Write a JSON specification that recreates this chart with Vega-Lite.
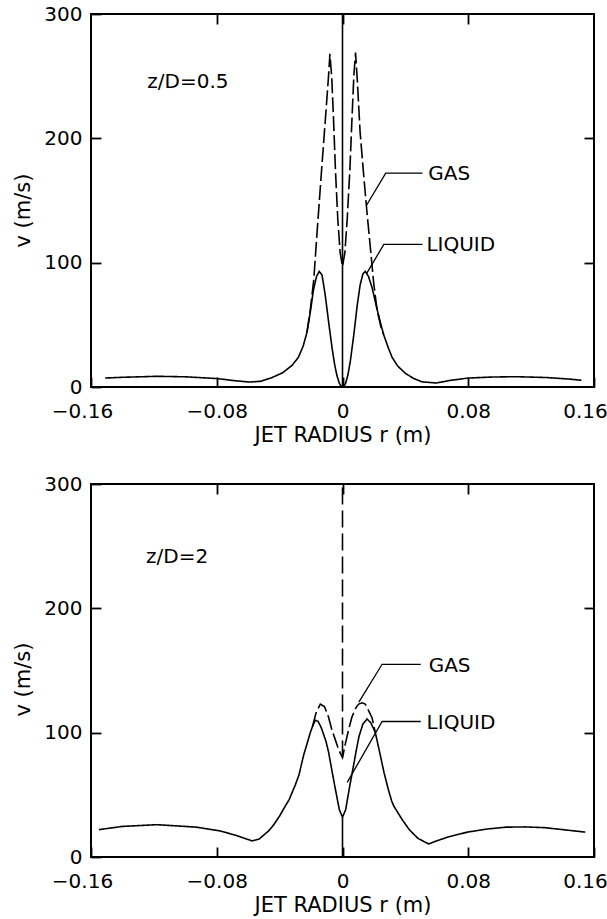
{
 "$schema": "https://vega.github.io/schema/vega-lite/v6.json",
 "background": "white",
 "padding": {"left": 11, "top": 3, "right": 0, "bottom": 0},
 "spacing": 27,
 "config": {
  "axis": {"domain": false, "grid": false, "labelFont": "DejaVu Sans", "titleFont": "DejaVu Sans", "labelFontSize": 20, "titleFontSize": 21, "titleFontWeight": "normal", "labelColor": "black", "titleColor": "black", "tickColor": "black", "tickWidth": 1.8},
  "view": {"stroke": "black", "strokeWidth": 2}
 },
 "datasets": {
  "top": [
   {"s":"liquid","r":-0.151,"v":7.2},{"s":"liquid","r":-0.14,"v":7.8},{"s":"liquid","r":-0.118,"v":8.6},{"s":"liquid","r":-0.1,"v":8.2},{"s":"liquid","r":-0.08,"v":6.8},{"s":"liquid","r":-0.068,"v":5},{"s":"liquid","r":-0.059,"v":4},{"s":"liquid","r":-0.052,"v":4.6},{"s":"liquid","r":-0.045,"v":7.5},{"s":"liquid","r":-0.038,"v":11.5},{"s":"liquid","r":-0.032,"v":17.5},{"s":"liquid","r":-0.028,"v":24},{"s":"liquid","r":-0.025,"v":33},{"s":"liquid","r":-0.0226,"v":44},{"s":"liquid","r":-0.0205,"v":60},{"s":"liquid","r":-0.0185,"v":78},{"s":"liquid","r":-0.0165,"v":89},{"s":"liquid","r":-0.0148,"v":93},{"s":"liquid","r":-0.013,"v":90},{"s":"liquid","r":-0.011,"v":74},{"s":"liquid","r":-0.0088,"v":52},{"s":"liquid","r":-0.0067,"v":32},{"s":"liquid","r":-0.005,"v":18},{"s":"liquid","r":-0.0035,"v":9},{"s":"liquid","r":-0.002,"v":3},{"s":"liquid","r":-0.001,"v":0.8},{"s":"liquid","r":0,"v":0},{"s":"liquid","r":0.001,"v":0.8},{"s":"liquid","r":0.002,"v":3},{"s":"liquid","r":0.0035,"v":10},{"s":"liquid","r":0.005,"v":21},{"s":"liquid","r":0.0072,"v":42},{"s":"liquid","r":0.0093,"v":65},{"s":"liquid","r":0.0112,"v":82},{"s":"liquid","r":0.013,"v":91},{"s":"liquid","r":0.0145,"v":93},{"s":"liquid","r":0.0165,"v":89},{"s":"liquid","r":0.0188,"v":80},{"s":"liquid","r":0.0219,"v":63},{"s":"liquid","r":0.0245,"v":50},{"s":"liquid","r":0.0262,"v":42},{"s":"liquid","r":0.029,"v":32},{"s":"liquid","r":0.0315,"v":24},{"s":"liquid","r":0.035,"v":17},{"s":"liquid","r":0.04,"v":11},{"s":"liquid","r":0.045,"v":7},{"s":"liquid","r":0.0505,"v":4.2},{"s":"liquid","r":0.0596,"v":3.2},{"s":"liquid","r":0.069,"v":5.4},{"s":"liquid","r":0.08,"v":7.2},{"s":"liquid","r":0.095,"v":8},{"s":"liquid","r":0.11,"v":8.3},{"s":"liquid","r":0.13,"v":7.6},{"s":"liquid","r":0.145,"v":6.3},{"s":"liquid","r":0.152,"v":5.4},
   {"s":"gas","r":-0.0226,"v":44},{"s":"gas","r":-0.0205,"v":62},{"s":"gas","r":-0.0183,"v":86},{"s":"gas","r":-0.0162,"v":124},{"s":"gas","r":-0.0131,"v":178},{"s":"gas","r":-0.0105,"v":222},{"s":"gas","r":-0.009,"v":248},{"s":"gas","r":-0.008,"v":268},{"s":"gas","r":-0.0068,"v":248},{"s":"gas","r":-0.0057,"v":215},{"s":"gas","r":-0.0045,"v":175},{"s":"gas","r":-0.003,"v":135},{"s":"gas","r":-0.0015,"v":108},{"s":"gas","r":0,"v":97},{"s":"gas","r":0.0015,"v":108},{"s":"gas","r":0.003,"v":135},{"s":"gas","r":0.0047,"v":175},{"s":"gas","r":0.006,"v":215},{"s":"gas","r":0.0072,"v":250},{"s":"gas","r":0.0083,"v":269},{"s":"gas","r":0.0095,"v":245},{"s":"gas","r":0.0112,"v":205},{"s":"gas","r":0.0135,"v":170},{"s":"gas","r":0.0156,"v":140},{"s":"gas","r":0.0178,"v":111},{"s":"gas","r":0.0199,"v":83},{"s":"gas","r":0.022,"v":62},{"s":"gas","r":0.0245,"v":48},{"s":"gas","r":0.0262,"v":42},
   {"s":"axis","r":0,"v":0},{"s":"axis","r":0,"v":300},
   {"s":"lead","id":"g","r":0.0152,"v":146},{"s":"lead","id":"g","r":0.0275,"v":172},{"s":"lead","id":"g","r":0.0509,"v":172},
   {"s":"lead","id":"l","r":0.0152,"v":91},{"s":"lead","id":"l","r":0.0263,"v":114.7},{"s":"lead","id":"l","r":0.0509,"v":114.7},
   {"s":"text","t":"z/D=0.5","r":-0.1242,"v":245},{"s":"text","t":"GAS","r":0.0546,"v":171},{"s":"text","t":"LIQUID","r":0.0534,"v":114}
  ],
  "bottom": [
   {"s":"liquid","r":-0.155,"v":22},{"s":"liquid","r":-0.14,"v":24.6},{"s":"liquid","r":-0.118,"v":26},{"s":"liquid","r":-0.093,"v":24},{"s":"liquid","r":-0.078,"v":21},{"s":"liquid","r":-0.068,"v":17.5},{"s":"liquid","r":-0.0576,"v":13},{"s":"liquid","r":-0.053,"v":14.5},{"s":"liquid","r":-0.047,"v":21},{"s":"liquid","r":-0.0437,"v":26},{"s":"liquid","r":-0.04,"v":33},{"s":"liquid","r":-0.0364,"v":41},{"s":"liquid","r":-0.034,"v":46},{"s":"liquid","r":-0.03,"v":58},{"s":"liquid","r":-0.0277,"v":66},{"s":"liquid","r":-0.0247,"v":82},{"s":"liquid","r":-0.0228,"v":90},{"s":"liquid","r":-0.0205,"v":100},{"s":"liquid","r":-0.0191,"v":105},{"s":"liquid","r":-0.0173,"v":110},{"s":"liquid","r":-0.0155,"v":109},{"s":"liquid","r":-0.0135,"v":104},{"s":"liquid","r":-0.0105,"v":93},{"s":"liquid","r":-0.0088,"v":84},{"s":"liquid","r":-0.0068,"v":70},{"s":"liquid","r":-0.0046,"v":55},{"s":"liquid","r":-0.002,"v":38},{"s":"liquid","r":0,"v":32},{"s":"liquid","r":0.002,"v":38},{"s":"liquid","r":0.0046,"v":57},{"s":"liquid","r":0.0068,"v":72},{"s":"liquid","r":0.0088,"v":86},{"s":"liquid","r":0.0105,"v":97},{"s":"liquid","r":0.013,"v":107},{"s":"liquid","r":0.0156,"v":111},{"s":"liquid","r":0.018,"v":108},{"s":"liquid","r":0.0209,"v":100},{"s":"liquid","r":0.0235,"v":85},{"s":"liquid","r":0.0264,"v":68},{"s":"liquid","r":0.029,"v":55},{"s":"liquid","r":0.0313,"v":45},{"s":"liquid","r":0.0326,"v":41},{"s":"liquid","r":0.038,"v":30},{"s":"liquid","r":0.0425,"v":22},{"s":"liquid","r":0.048,"v":15},{"s":"liquid","r":0.0548,"v":10.5},{"s":"liquid","r":0.06,"v":13},{"s":"liquid","r":0.067,"v":16},{"s":"liquid","r":0.0794,"v":20},{"s":"liquid","r":0.092,"v":22.5},{"s":"liquid","r":0.104,"v":24},{"s":"liquid","r":0.116,"v":24.2},{"s":"liquid","r":0.1287,"v":23.6},{"s":"liquid","r":0.1545,"v":20},
   {"s":"gas","r":-0.0191,"v":105},{"s":"gas","r":-0.0168,"v":116},{"s":"gas","r":-0.0141,"v":123},{"s":"gas","r":-0.0115,"v":121},{"s":"gas","r":-0.009,"v":113},{"s":"gas","r":-0.0067,"v":102},{"s":"gas","r":-0.0045,"v":94},{"s":"gas","r":-0.0029,"v":88},{"s":"gas","r":-0.0012,"v":83},{"s":"gas","r":0,"v":80},{"s":"gas","r":0.0018,"v":91},{"s":"gas","r":0.004,"v":103},{"s":"gas","r":0.006,"v":112.6},{"s":"gas","r":0.0085,"v":120},{"s":"gas","r":0.0103,"v":123},{"s":"gas","r":0.0125,"v":124},{"s":"gas","r":0.0145,"v":123},{"s":"gas","r":0.0165,"v":118},{"s":"gas","r":0.0188,"v":112},{"s":"gas","r":0.0209,"v":100},
   {"s":"axis","r":0,"v":0},{"s":"axis","r":0,"v":32},
   {"s":"gasaxis","r":0,"v":80},{"s":"gasaxis","r":0,"v":300},
   {"s":"lead","id":"g","r":0.0104,"v":124.6},{"s":"lead","id":"g","r":0.0252,"v":155},{"s":"lead","id":"g","r":0.0498,"v":155},
   {"s":"lead","id":"l","r":0.003,"v":60},{"s":"lead","id":"l","r":0.0252,"v":109},{"s":"lead","id":"l","r":0.0498,"v":109},
   {"s":"text","t":"z/D=2","r":-0.125,"v":241.6},{"s":"text","t":"GAS","r":0.0548,"v":154},{"s":"text","t":"LIQUID","r":0.0535,"v":108}
  ]
 },
 "vconcat": [
  {
   "width": 503, "height": 373,
   "data": {"name": "top"},
   "layer": [
    {"transform": [{"filter": {"field": "s", "oneOf": ["liquid", "gas", "axis", "gasaxis"]}}],
     "mark": {"type": "line", "color": "black", "strokeWidth": 1.6},
     "encoding": {
      "x": {"field": "r", "type": "quantitative", "scale": {"domain": [-0.16, 0.16], "nice": false, "zero": false},
            "axis": {"orient": "bottom", "values": [-0.16, -0.08, 0, 0.08, 0.16], "tickSize": -10, "labelPadding": 24, "labelFlush": false, "labelExpr": "datum.value == 0 ? '0' : format(datum.value, '.2f')", "labelOffset": {"condition": {"test": "abs(datum.value) > 0.1", "value": -9}, "value": 0}, "title": "JET RADIUS r (m)", "titlePadding": 3}},
      "y": {"field": "v", "type": "quantitative", "scale": {"domain": [0, 300], "nice": false},
            "axis": {"orient": "left", "values": [0, 100, 200, 300], "tickSize": -10, "labelPadding": 19, "title": "v (m/s)", "titlePadding": 10, "titleY": 196}},
      "strokeDash": {"field": "s", "type": "nominal", "scale": {"domain": ["liquid", "gas", "axis", "gasaxis"], "range": [[1, 0], [15, 4], [1, 0], [17, 6]]}, "legend": null}
     }},
    {"transform": [{"filter": "datum.s == 'lead'"}],
     "mark": {"type": "line", "color": "black", "strokeWidth": 1.3},
     "encoding": {
      "x": {"field": "r", "type": "quantitative", "axis": {"orient": "top", "values": [-0.08, 0, 0.08], "tickSize": -10, "labels": false, "title": null}},
      "y": {"field": "v", "type": "quantitative", "axis": {"orient": "right", "values": [100, 200], "tickSize": -10, "labels": false, "title": null}},
      "detail": {"field": "id"}
     }},
    {"transform": [{"filter": "datum.s == 'text'"}],
     "mark": {"type": "text", "align": "left", "baseline": "middle", "fontSize": 20, "font": "DejaVu Sans", "color": "black"},
     "encoding": {
      "x": {"field": "r", "type": "quantitative", "axis": null},
      "y": {"field": "v", "type": "quantitative", "axis": null},
      "text": {"field": "t"}
     }}
   ],
   "resolve": {"axis": {"x": "independent", "y": "independent"}}
  },
  {
   "width": 503, "height": 373,
   "data": {"name": "bottom"},
   "layer": [
    {"transform": [{"filter": {"field": "s", "oneOf": ["liquid", "gas", "axis", "gasaxis"]}}],
     "mark": {"type": "line", "color": "black", "strokeWidth": 1.6},
     "encoding": {
      "x": {"field": "r", "type": "quantitative", "scale": {"domain": [-0.16, 0.16], "nice": false, "zero": false},
            "axis": {"orient": "bottom", "values": [-0.16, -0.08, 0, 0.08, 0.16], "tickSize": -10, "labelPadding": 24, "labelFlush": false, "labelExpr": "datum.value == 0 ? '0' : format(datum.value, '.2f')", "labelOffset": {"condition": {"test": "abs(datum.value) > 0.1", "value": -9}, "value": 0}, "title": "JET RADIUS r (m)", "titlePadding": 3}},
      "y": {"field": "v", "type": "quantitative", "scale": {"domain": [0, 300], "nice": false},
            "axis": {"orient": "left", "values": [0, 100, 200, 300], "tickSize": -10, "labelPadding": 19, "title": "v (m/s)", "titlePadding": 10, "titleY": 195}},
      "strokeDash": {"field": "s", "type": "nominal", "scale": {"domain": ["liquid", "gas", "axis", "gasaxis"], "range": [[1, 0], [15, 4], [1, 0], [17, 6]]}, "legend": null}
     }},
    {"transform": [{"filter": "datum.s == 'lead'"}],
     "mark": {"type": "line", "color": "black", "strokeWidth": 1.3},
     "encoding": {
      "x": {"field": "r", "type": "quantitative", "axis": {"orient": "top", "values": [-0.08, 0, 0.08], "tickSize": -10, "labels": false, "title": null}},
      "y": {"field": "v", "type": "quantitative", "axis": {"orient": "right", "values": [100, 200], "tickSize": -10, "labels": false, "title": null}},
      "detail": {"field": "id"}
     }},
    {"transform": [{"filter": "datum.s == 'text'"}],
     "mark": {"type": "text", "align": "left", "baseline": "middle", "fontSize": 20, "font": "DejaVu Sans", "color": "black"},
     "encoding": {
      "x": {"field": "r", "type": "quantitative", "axis": null},
      "y": {"field": "v", "type": "quantitative", "axis": null},
      "text": {"field": "t"}
     }}
   ],
   "resolve": {"axis": {"x": "independent", "y": "independent"}}
  }
 ]
}
